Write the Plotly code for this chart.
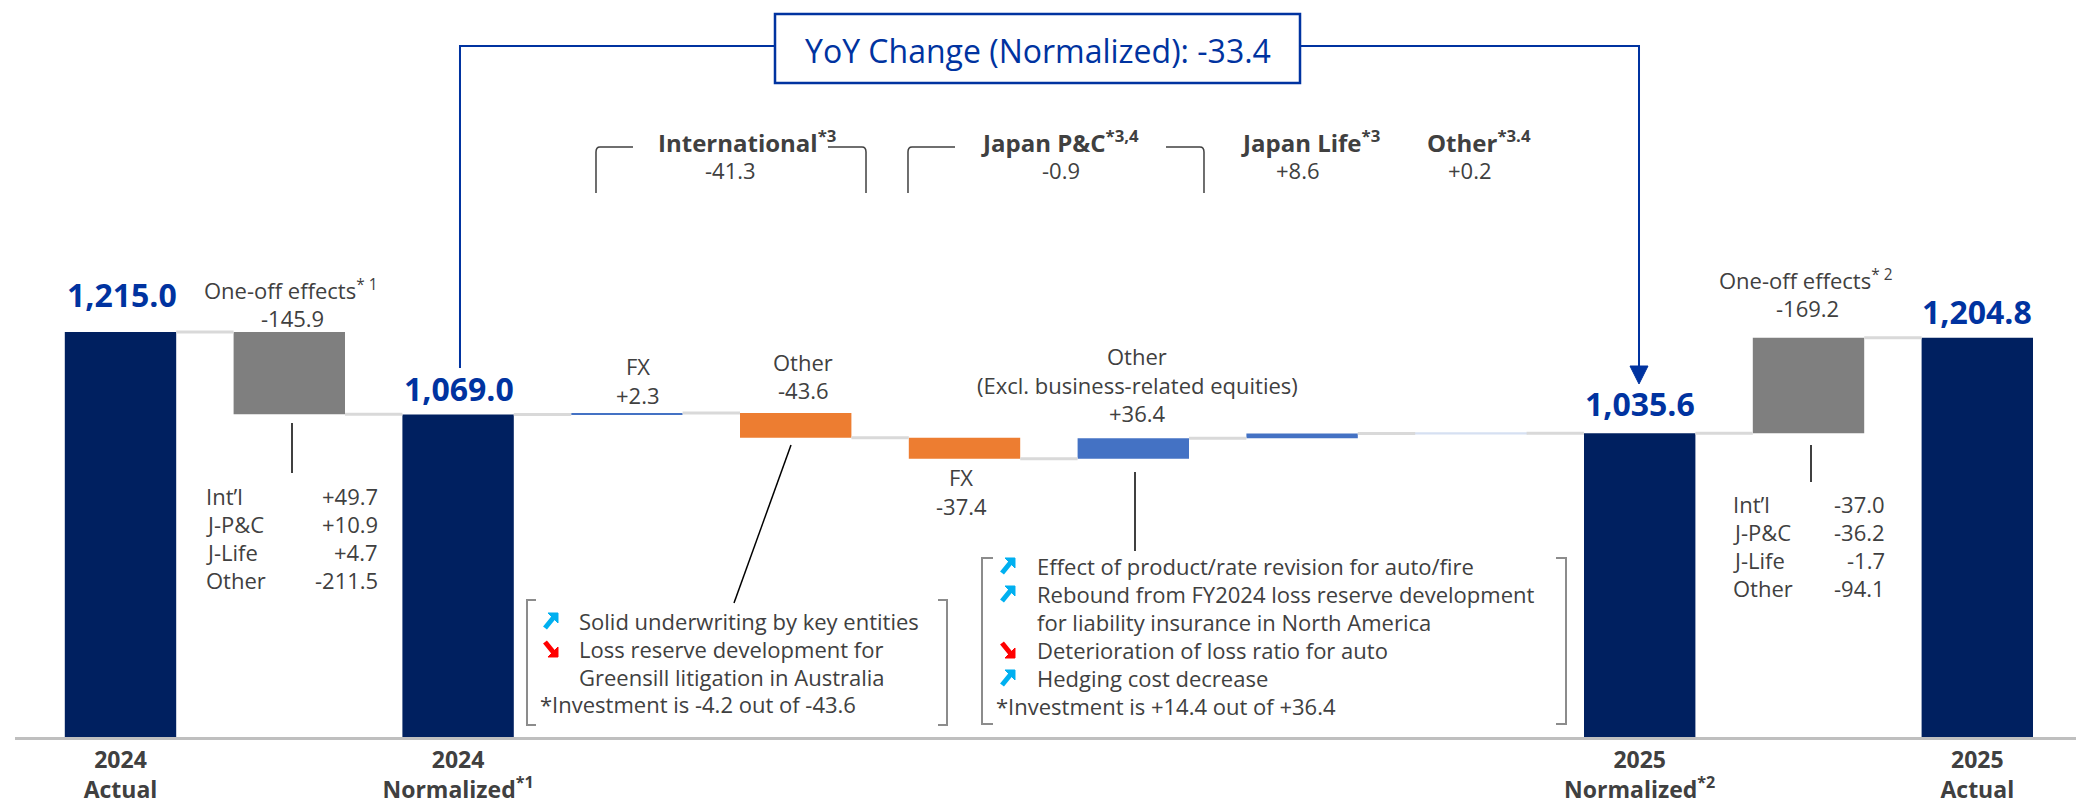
import plotly.graph_objects as go

# ---------------- data ----------------
categories = ["2024 Actual", "One-off effects (2024)", "2024 Normalized", "Int'l FX", "Int'l Other",
              "J-P&C FX", "J-P&C Other", "Japan Life", "Other", "2025 Normalized",
              "One-off effects (2025)", "2025 Actual"]
kinds = ["total", "step", "total", "step", "step", "step", "step", "step", "step", "total", "step", "total"]
totals = {0: 1215.0, 2: 1069.0, 9: 1035.6, 11: 1204.8}
steps = {1: -145.9, 3: 2.3, 4: -43.6, 5: -37.4, 6: 36.4, 7: 8.6, 8: 0.2, 10: 169.2}
bar_colors = ["#002060", "#7F7F7F", "#002060", "#4472C4", "#ED7D31", "#ED7D31",
              "#4472C4", "#4472C4", "#D6E0F2", "#002060", "#7F7F7F", "#002060"]
total_labels = ["1,215.0", "1,069.0", "1,035.6", "1,204.8"]
tick_vals = [0, 2, 9, 11]
tick_text = ["<b>2024</b><br><b>Actual</b>", "<b>2024</b><br><b>Normalized<sup>*1</sup></b>",
             "<b>2025</b><br><b>Normalized<sup>*2</sup></b>", "<b>2025</b><br><b>Actual</b>"]
oneoff_2024 = [("Int’l", "+49.7"), ("J-P&C", "+10.9"), ("J-Life", "+4.7"), ("Other", "-211.5")]
oneoff_2025 = [("Int’l", "-37.0"), ("J-P&C", "-36.2"), ("J-Life", "-1.7"), ("Other", "-94.1")]
segments = [("International<sup>*3</sup>", "-41.3"), ("Japan P&C<sup>*3,4</sup>", "-0.9"),
            ("Japan Life<sup>*3</sup>", "+8.6"), ("Other<sup>*3.4</sup>", "+0.2")]
yoy_text = "YoY Change (Normalized): -33.4"
intl_notes = [("up", "Solid underwriting by key entities"), ("down", "Loss reserve development for"),
              (None, "Greensill litigation in Australia")]
intl_invest = "*Investment is -4.2 out of -43.6"
jpc_notes = [("up", "Effect of product/rate revision for auto/fire"),
             ("up", "Rebound from FY2024 loss reserve development"),
             (None, "for liability insurance in North America"),
             ("down", "Deterioration of loss ratio for auto"), ("up", "Hedging cost decrease")]
jpc_invest = "*Investment is +14.4 out of +36.4"

# ---------------- build bars ----------------
bases, heights, levels = [], [], []
level = 0.0
for i, k in enumerate(kinds):
    if k == "total":
        level = totals[i]
        bases.append(0)
        heights.append(level)
    else:
        d = steps[i]
        bases.append(min(level, level + d))
        heights.append(abs(d))
        level = level + d
    levels.append(level)

W, H = 2076, 805
ML, MB = 15, 68
PW, PH = W - ML, H - MB
SLOT_PX, SLOT0_PX = 168.8, 120.5
PX_PER_UNIT = 0.565
Y_FLOOR = 498.0


def fx(px):
    return (px - ML) / PW


def fy(py):
    return (PH - py) / PH


FONT = "Open Sans, Noto Sans, sans-serif"
GREY_TXT = "#404040"
BLUE = "#0033A0"

fig = go.Figure()

# connectors
cx, cy = [], []
bw = 0.66
for i in range(len(kinds) - 1):
    cx += [i + bw / 2, i + 1 - bw / 2, None]
    cy += [levels[i], levels[i], None]
fig.add_trace(go.Scatter(x=cx, y=cy, mode="lines", line=dict(color="#D9D9D9", width=3),
                         hoverinfo="skip", showlegend=False))

line_w = [2 if i == 8 else 0 for i in range(12)]
fig.add_trace(go.Bar(x=list(range(12)), y=heights, base=bases, width=bw,
                     marker=dict(color=bar_colors, line=dict(width=line_w, color=bar_colors)),
                     hoverinfo="skip", showlegend=False))

ann = []


def txt(px, py, text, size=22, color=GREY_TXT, bold=False, xanchor="center", family=FONT):
    if bold:
        text = "<b>" + text + "</b>"
    ann.append(dict(x=fx(px), y=fy(py), xref="paper", yref="paper", text=text, showarrow=False,
                    xanchor=xanchor, yanchor="middle", font=dict(size=size, color=color, family=family)))


# total value labels
for (px, py), lab in zip([(122, 295), (459, 388), (1640, 404), (1977, 311)], total_labels):
    txt(px, py, lab, size=32, color=BLUE, bold=True)

# step labels
txt(290, 289, "One-off effects<sup>* 1</sup>")
txt(292, 318, f"{steps[1]:.1f}")
txt(638, 366, "FX")
txt(638, 395, f"{steps[3]:+.1f}")
txt(803, 362, "Other")
txt(803, 390, f"{steps[4]:+.1f}")
txt(961, 477, "FX")
txt(961, 506, f"{steps[5]:+.1f}")
txt(1137, 356, "Other")
txt(1137, 385, "(Excl. business-related equities)")
txt(1137, 413, f"{steps[6]:+.1f}")
txt(1805, 279, "One-off effects<sup>* 2</sup>")
txt(1807, 308, f"{-steps[10]:.1f}")

# segment headers
for (name, val), (nx, vx) in zip(segments, [(747, 730), (1060, 1061), (1310, 1298), (1479, 1470)]):
    txt(nx, 141, name, size=24, bold=True)
    txt(vx, 170, val, size=22)

# one-off breakdown tables
for rows, lx, rx, y0 in [(oneoff_2024, 204, 380, 496), (oneoff_2025, 1731, 1887, 504)]:
    for j, (a, b) in enumerate(rows):
        txt(lx, y0 + 28 * j, a, xanchor="left")
        txt(rx, y0 + 28 * j, b, xanchor="right")

shapes = []


def path(points, color, width, closed=False, fill=None):
    d = ""
    for k, p in enumerate(points):
        if p[0] == "Q":
            _, (x1, y1), (x2, y2) = p
            d += f" Q{fx(x1):.5f},{fy(y1):.5f} {fx(x2):.5f},{fy(y2):.5f}"
        else:
            d += (" M" if k == 0 else " L") + f"{fx(p[0]):.5f},{fy(p[1]):.5f}"
    if closed:
        d += " Z"
    s = dict(type="path", path=d.strip(), xref="paper", yref="paper",
             line=dict(color=color, width=width))
    if fill:
        s["fillcolor"] = fill
    shapes.append(s)


def seg(x0, y0, x1, y1, color, width):
    shapes.append(dict(type="line", x0=fx(x0), y0=fy(y0), x1=fx(x1), y1=fy(y1), xref="paper",
                       yref="paper", line=dict(color=color, width=width)))


def icon(cx, cy, kind):
    if kind == "up":
        col = "#00B0F0"
        path([(cx - 3, cy - 8), (cx + 7, cy - 8), (cx + 7, cy + 2)], col, 1, closed=True, fill=col)
        seg(cx - 6, cy + 7, cx + 3, cy - 4, col, 5)
    else:
        col = "#FF0000"
        path([(cx - 3, cy + 8), (cx + 7, cy + 8), (cx + 7, cy - 2)], col, 1, closed=True, fill=col)
        seg(cx - 6, cy - 7, cx + 3, cy + 4, col, 5)


def notes(items, icon_x, text_x, y0):
    for j, (ic, t) in enumerate(items):
        y = y0 + 28 * j
        if ic:
            icon(icon_x, y, ic)
        txt(text_x, y, t, xanchor="left")


notes(intl_notes, 551, 577, 621)
txt(538, 704, intl_invest, xanchor="left")
notes(jpc_notes, 1008, 1035, 566)
txt(994, 706, jpc_invest, xanchor="left")

# YoY box text
txt(1038, 50, yoy_text, size=32, color=BLUE)

# YoY box and connectors
shapes.append(dict(type="rect", x0=fx(775), x1=fx(1300), y0=fy(83), y1=fy(14), xref="paper",
                   yref="paper", line=dict(color=BLUE, width=2.5), fillcolor="rgba(0,0,0,0)"))
path([(460, 368), (460, 46), (775, 46)], BLUE, 2)
path([(1300, 46), (1639, 46), (1639, 368)], BLUE, 2)
path([(1630, 366), (1648, 366), (1639, 384)], BLUE, 1, closed=True, fill=BLUE)

# segment brackets
BR = "#404040"
path([(633, 147), (600, 147), ("Q", (596, 147), (596, 152)), (596, 193)], BR, 1.5)
path([(828, 147), (862, 147), ("Q", (866, 147), (866, 152)), (866, 193)], BR, 1.5)
path([(955, 147), (912, 147), ("Q", (908, 147), (908, 152)), (908, 193)], BR, 1.5)
path([(1166, 147), (1200, 147), ("Q", (1204, 147), (1204, 152)), (1204, 193)], BR, 1.5)

# note brackets
GB = "#8C8C8C"
path([(536, 600), (527, 600), (527, 725), (536, 725)], GB, 2)
path([(938, 600), (947, 600), (947, 725), (938, 725)], GB, 2)
path([(993, 558), (982, 558), (982, 724), (993, 724)], GB, 2)
path([(1556, 558), (1566, 558), (1566, 724), (1556, 724)], GB, 2)

# leader lines
seg(791, 445, 734, 603, "#000000", 1.5)
seg(1135, 472, 1135, 551, "#000000", 1.5)
seg(292, 423, 292, 473, "#000000", 1.5)
seg(1811, 445, 1811, 482, "#000000", 1.5)

fig.update_layout(
    width=W, height=H,
    margin=dict(l=ML, r=0, t=0, b=MB, autoexpand=False),
    paper_bgcolor="white", plot_bgcolor="white",
    barmode="overlay", showlegend=False,
    annotations=ann, shapes=shapes,
    xaxis=dict(range=[(ML - SLOT0_PX) / SLOT_PX, (W - SLOT0_PX) / SLOT_PX], showgrid=False, zeroline=False,
               showline=True, linecolor="#BFBFBF", linewidth=3, tickmode="array", tickvals=tick_vals,
               ticktext=tick_text, ticks="", ticklabelstandoff=0, automargin=False,
               tickfont=dict(size=23, color=GREY_TXT, family=FONT), fixedrange=True),
    yaxis=dict(range=[Y_FLOOR, Y_FLOOR + PH / PX_PER_UNIT], visible=False, fixedrange=True,
               automargin=False),
    font=dict(family=FONT),
)

fig.write_html("out.html", config={"displayModeBar": False},
               post_script="document.body.style.margin='0px';document.body.style.overflow='hidden';")
